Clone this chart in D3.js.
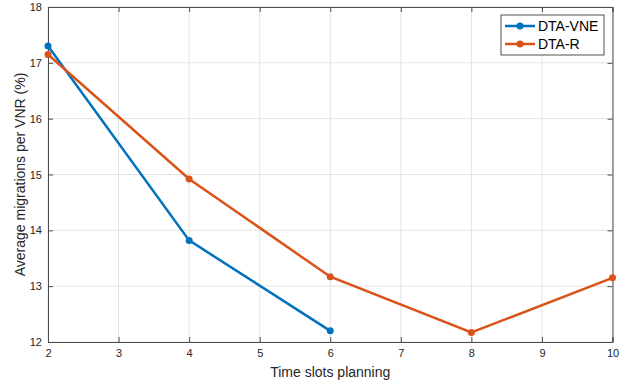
<!DOCTYPE html>
<html>
<head>
<meta charset="utf-8">
<script src="https://cdn.jsdelivr.net/npm/d3@7"></script>
<style>
  body { margin: 0; background: #fff; }
  text { font-family: "Liberation Sans", Arial, sans-serif; }
</style>
</head>
<body>
<div id="container"></div>
<script>
/* DATA */
const slots = [2, 4, 6, 8, 10];
const vneValues = [17.3, 13.82, 12.2];
const rValues = [17.15, 14.92, 13.17, 12.17, 13.15];
const seriesNames = ["DTA-VNE", "DTA-R"];
const xTicks = [2, 3, 4, 5, 6, 7, 8, 9, 10];
const yTicks = [12, 13, 14, 15, 16, 17, 18];

const width = 638, height = 384;
const margin = { left: 48, right: 25.5, top: 7, bottom: 42 };
const colors = ["#0072BD", "#D95319"];

const svg = d3.select("#container").append("svg")
  .attr("width", width)
  .attr("height", height);

const xScale = d3.scaleLinear().domain([2, 10]).range([margin.left, width - margin.right]);
const yScale = d3.scaleLinear().domain([12, 18]).range([height - margin.bottom, margin.top]);

// grid
svg.append("g").selectAll("line.gx")
  .data(xTicks)
  .join("line")
  .attr("x1", d => xScale(d)).attr("x2", d => xScale(d))
  .attr("y1", yScale(12)).attr("y2", yScale(18))
  .attr("stroke", "#e3e3e3").attr("stroke-width", 1);
svg.append("g").selectAll("line.gy")
  .data(yTicks)
  .join("line")
  .attr("y1", d => yScale(d)).attr("y2", d => yScale(d))
  .attr("x1", xScale(2)).attr("x2", xScale(10))
  .attr("stroke", "#e3e3e3").attr("stroke-width", 1);

// axes (ticks inside, like matlab)
const axisColor = "#4d4d4d";
const fmt = d3.format("d");
const xAxis = svg.append("g")
  .attr("transform", `translate(0, ${yScale(12)})`)
  .call(d3.axisBottom(xScale).tickValues(xTicks).tickFormat(fmt).tickSize(-5).tickPadding(7));
const xTop = svg.append("g")
  .attr("transform", `translate(0, ${yScale(18)})`)
  .call(d3.axisTop(xScale).tickValues(xTicks).tickSize(-5).tickFormat(""));
const yAxis = svg.append("g")
  .attr("transform", `translate(${xScale(2)}, 0)`)
  .call(d3.axisLeft(yScale).tickValues(yTicks).tickFormat(fmt).tickSize(-5).tickPadding(6));
const yRight = svg.append("g")
  .attr("transform", `translate(${xScale(10)}, 0)`)
  .call(d3.axisRight(yScale).tickValues(yTicks).tickSize(-5).tickFormat(""));

[xAxis, xTop, yAxis, yRight].forEach(g => {
  g.selectAll("path, line").attr("stroke", axisColor);
  g.selectAll("text").attr("fill", "#262626").style("font-size", "11px");
});

// lines
const line = d3.line().x(d => xScale(d[0])).y(d => yScale(d[1]));
const series = [
  vneValues.map((v, i) => [slots[i], v]),
  rValues.map((v, i) => [slots[i], v])
];

series.forEach((pts, i) => {
  svg.append("path")
    .datum(pts)
    .attr("d", line)
    .attr("fill", "none")
    .attr("stroke", colors[i])
    .attr("stroke-width", 2.5);
  svg.append("g").selectAll("circle")
    .data(pts)
    .join("circle")
    .attr("cx", d => xScale(d[0]))
    .attr("cy", d => yScale(d[1]))
    .attr("r", 3.5)
    .attr("fill", colors[i]);
});

// axis labels
svg.append("text")
  .attr("x", (xScale(2) + xScale(10)) / 2)
  .attr("y", 377)
  .attr("text-anchor", "middle")
  .attr("fill", "#262626")
  .style("font-size", "14px")
  .text("Time slots planning");

svg.append("text")
  .attr("transform", `translate(25, ${(yScale(12) + yScale(18)) / 2}) rotate(-90)`)
  .attr("text-anchor", "middle")
  .attr("fill", "#262626")
  .style("font-size", "14px")
  .text("Average migrations per VNR (%)");

// legend
const legend = svg.append("g").attr("transform", "translate(501, 15)");
legend.append("rect")
  .attr("width", 103).attr("height", 40)
  .attr("fill", "#fff").attr("stroke", "#262626").attr("stroke-width", 0.8);
seriesNames.forEach((name, i) => {
  const y = 11 + i * 18;
  legend.append("line")
    .attr("x1", 4).attr("x2", 34).attr("y1", y).attr("y2", y)
    .attr("stroke", colors[i]).attr("stroke-width", 2.5);
  legend.append("circle").attr("cx", 19).attr("cy", y).attr("r", 3.5).attr("fill", colors[i]);
  legend.append("text")
    .attr("x", 37).attr("y", y + 5)
    .attr("fill", "#000")
    .style("font-size", "14px")
    .text(name);
});
</script>
</body>
</html>
